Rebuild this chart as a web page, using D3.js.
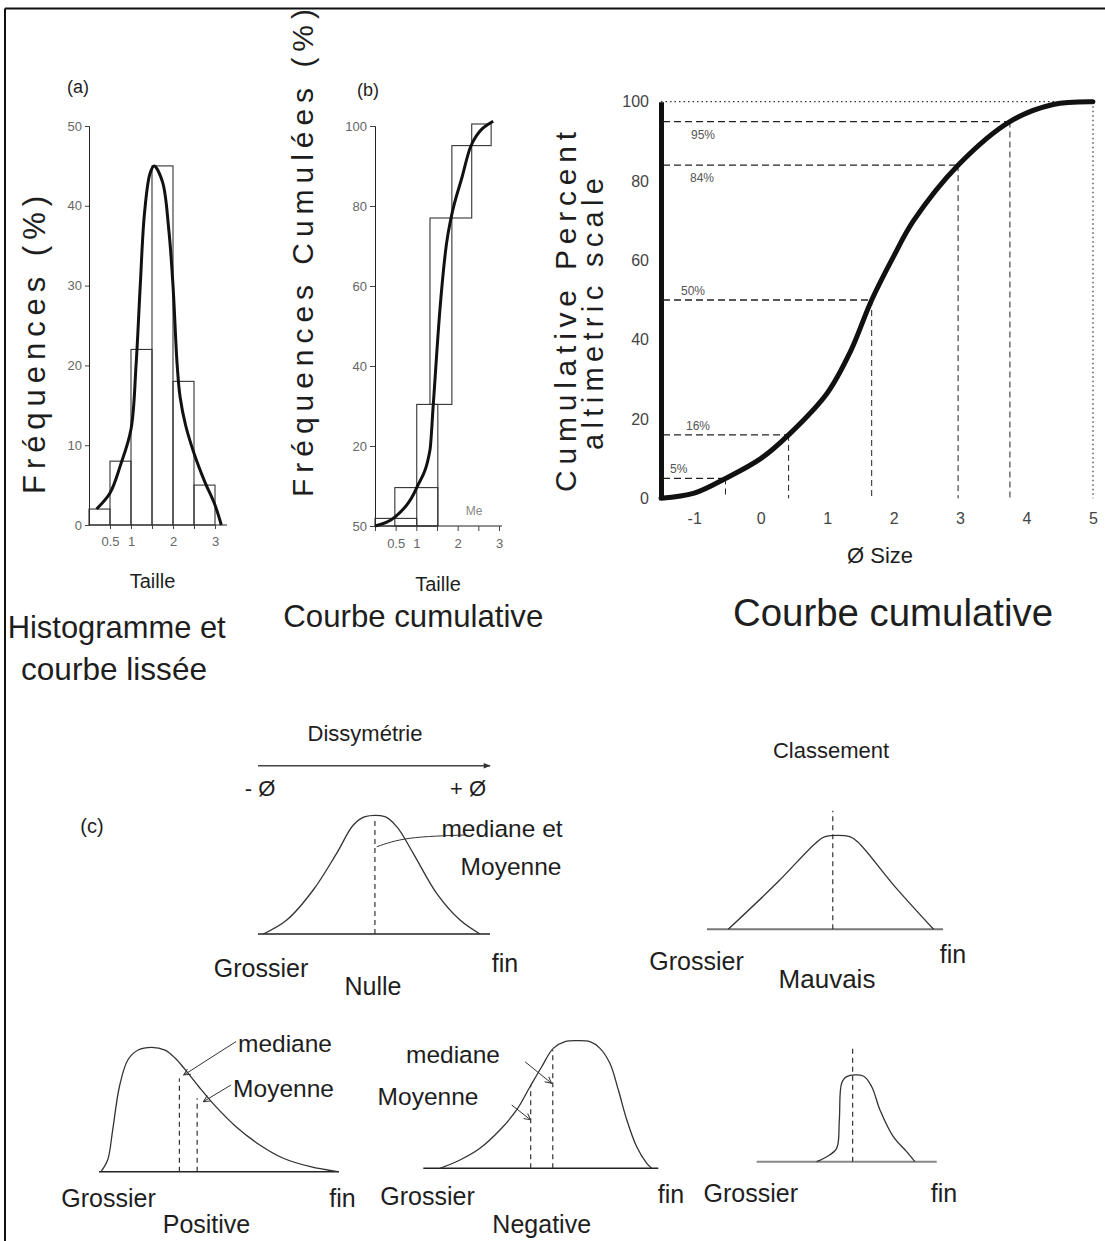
<!DOCTYPE html>
<html>
<head>
<meta charset="utf-8">
<script src="https://cdn.jsdelivr.net/npm/d3@7"></script>
<style>
body { margin: 0; background: #fff; }
text { font-family: "Liberation Sans", Arial, sans-serif; fill: #1e1e1e; }
.tick text { fill: #666; }
</style>
</head>
<body>
<svg id="fig" width="1105" height="1241"></svg>
<script>
// ---------------------------------------------------------------
// (a) histogramme + courbe lissee
const histBins = [0, 0.5, 1, 1.5, 2, 2.5, 3];
const histFreq = [2, 8, 22, 45, 18, 5];
const histSmooth = [[0.18,2],[0.5,4],[0.75,7.5],[1,12],[1.12,20],[1.22,30],[1.32,39],[1.45,44],[1.55,45],
                    [1.75,43],[1.9,37],[2,30],[2.1,20],[2.17,16],[2.3,12.5],[2.5,9],[2.75,5.5],[3,2.5],[3.15,0]];
const histYTicks = [0, 10, 20, 30, 40, 50];
const histXTicks = [0.5, 1, 1.5, 2, 2.5, 3];
const histXLabels = ["0.5", "1", "", "2", "", "3"];

// (b) courbe cumulative (marches)
const cumX0 = [0, 0.48, 1.01, 1.33, 1.86, 2.34];
const cumX1 = [1.01, 1.52, 1.52, 1.86, 2.34, 2.81];
const cumLow = [0, 0, 0, 30.4, 77, 95.1];
const cumHigh = [1.9, 9.6, 30.4, 77, 95.1, 100.5];
const cumCurve = [[0,0],[0.48,2.2],[1.01,9.6],[1.33,19],[1.41,30.4],[1.57,54],[1.73,70.6],[1.84,77],[2.1,87],[2.32,95],[2.86,101.2]];
const cumYTicks = [0, 20, 40, 60, 80, 100];
const cumYLabels = ["50", "20", "40", "60", "80", "100"];
const cumXTicks = [0, 0.5, 1, 1.5, 2, 2.5, 3];
const cumXLabels = ["", "0.5", "1", "", "2", "", "3"];

// courbe cumulative en phi
const phiCurve = [[-1.5,0],[-1,1.3],[-0.53,5],[0,10],[0.42,16],[1,26.5],[1.35,37],[1.67,50],[2,61],[2.3,70],[2.97,84],[3.75,95],[4.4,99.3],[5,100]];
const phiYTicks = [0, 20, 40, 60, 80, 100];
const phiXTicks = [-1, 0, 1, 2, 3, 4, 5];
const quantPct = [5, 16, 50, 84, 95];
const quantPhi = [-0.53, 0.42, 1.67, 2.97, 3.75];
const quantLabels = ["5%", "16%", "50%", "84%", "95%"];

// (c) schemas (x et y en % de la boite)
const nulleCurve = [[2.3,0],[12.4,11.9],[23.8,37.5],[33.9,68.8],[41.1,92.9],[46.1,100],[54.7,100],[59.8,91.5],[66.9,68.8],[77,34.7],[87.1,11.9],[95.7,0]];
const nulleLeader = [[51.2,74.4],[65.5,81.6],[89.2,84.4]];
const mauvaisCurve = [[9,0],[30,51],[46,93],[50,100],[60.5,100],[64,94],[80,45],[96,0]];
const positiveCurve = [[0.8,0],[3.6,9.4],[5.7,33.5],[8.5,68.3],[12,89.8],[16.3,97.8],[21.9,100],[27.5,97.8],[31.8,91.2],[36,81.8],
                       [41.6,68.3],[48.7,52.3],[57.1,36.2],[67,21.5],[76.8,10.8],[88.1,4],[99.4,0]];
const negativeCurve = [[7.1,0],[15.6,6.5],[24.1,15.7],[32.6,30],[39.7,45.7],[45.4,63.9],[50.4,79.6],[55.3,94],[60.3,99.2],[65.3,100],
                       [70.9,99.2],[75.2,94],[79.4,82.3],[83,61.4],[86.6,37.9],[90.8,16.9],[95.1,3.9],[97.2,0]];
const narrowCurve = [[33.3,0],[38.9,5.8],[44.4,15.6],[45.9,48.7],[47.2,91.5],[50,99.2],[59.2,100],[63.9,87.5],[68.5,60.3],[75.9,29.2],[83.3,11.7],[87.9,0]];
// traits tiretes [x, hauteur]
const nulleDash = [[50.4, 99]];
const mauvaisDash = [[53.3, 128]];
const positiveDash = [[33.5, 75], [40.9, 59]];
const negativeDash = [[45.7, 65], [55.1, 92.7]];
const narrowDash = [[53.3, 134]];
// fleches [x0, y0, x1, y1]
const positiveArrows = [[57.1, 104.6, 35.3, 77.7], [55, 69.7, 43.5, 56.3]];
const negativeArrows = [[43.3, 83.5, 54.6, 66.6], [37.6, 49.6, 45.7, 37.9]];

// ---------------------------------------------------------------
var svg = d3.select("#fig");
var smooth = d3.curveCatmullRom.alpha(0.5);

var defs = svg.append("defs");
defs.append("marker").attr("id", "arrowFill")
    .attr("viewBox", "0 0 10 10").attr("refX", 9).attr("refY", 5)
    .attr("markerWidth", 9).attr("markerHeight", 7).attr("orient", "auto")
    .attr("markerUnits", "userSpaceOnUse")
    .append("path").attr("d", "M0,1 L10,5 L0,9 Z").attr("fill", "#333");
defs.append("marker").attr("id", "arrowOpen")
    .attr("viewBox", "0 0 10 10").attr("refX", 9).attr("refY", 5)
    .attr("markerWidth", 8).attr("markerHeight", 8).attr("orient", "auto")
    .attr("markerUnits", "userSpaceOnUse")
    .append("path").attr("d", "M1,1 L9,5 L1,9").attr("fill", "none").attr("stroke", "#333").attr("stroke-width", 1.2);

// cadre
svg.append("line").attr("x1", 5).attr("y1", 8.5).attr("x2", 1105).attr("y2", 8.5).attr("stroke", "#111").attr("stroke-width", 2);
svg.append("line").attr("x1", 5).attr("y1", 8.5).attr("x2", 5).attr("y2", 1241).attr("stroke", "#111").attr("stroke-width", 2);

function label(txt, x, y, size, opts)
{
    opts = opts || {};
    var t = svg.append("text").text(txt)
        .attr("x", x).attr("y", y)
        .attr("text-anchor", opts.anchor || "middle")
        .style("font-size", size + "px");
    if (opts.len) t.attr("textLength", opts.len).attr("lengthAdjust", opts.adjust || "spacingAndGlyphs");
    if (opts.fill) t.style("fill", opts.fill);
    return t;
}

function vlabel(txt, x, y, size, len)
{
    svg.append("text").text(txt)
        .attr("transform", "translate(" + x + "," + y + ") rotate(-90)")
        .attr("text-anchor", "middle")
        .attr("textLength", len).attr("lengthAdjust", "spacing")
        .style("font-size", size + "px");
}

function styleAxis(g)
{
    g.selectAll("path").attr("stroke", "#222");
    g.selectAll("line").attr("stroke", "#444");
    g.selectAll("text").style("font-size", "13px").style("font-family", "Liberation Sans, Arial, sans-serif");
}

// ---------------------------------------------------------------
// (a)
var xA = d3.scaleLinear().domain([0, 3]).range([89, 215]);
var yA = d3.scaleLinear().domain([0, 50]).range([525, 126]);

svg.append("g").attr("transform", "translate(89,0)")
    .call(d3.axisLeft(yA).tickValues(histYTicks).tickSize(4).tickPadding(3))
    .call(styleAxis);
svg.append("g").attr("transform", "translate(0,525)")
    .call(d3.axisBottom(xA).tickValues(histXTicks).tickSize(4).tickPadding(8)
        .tickFormat((d, i) => histXLabels[i]))
    .call(styleAxis)
    .select("path").attr("d", "M89,0H227");

svg.append("g").selectAll("rect")
    .data(histFreq)
    .enter().append("rect")
    .attr("x", (d, i) => xA(histBins[i]))
    .attr("y", d => yA(d))
    .attr("width", (d, i) => xA(histBins[i + 1]) - xA(histBins[i]))
    .attr("height", d => yA(0) - yA(d))
    .attr("fill", "none").attr("stroke", "#333").attr("stroke-width", 1.1);

svg.append("path").datum(histSmooth)
    .attr("d", d3.line().x(d => xA(d[0])).y(d => yA(d[1])).curve(smooth))
    .attr("fill", "none").attr("stroke", "#111").attr("stroke-width", 3);

label("(a)", 78, 93, 18);
label("Taille", 152.5, 588, 20);
vlabel("Fréquences (%)", 45, 345, 31, 298);
label("Histogramme et", 116.7, 638, 32, {len: 218});
label("courbe lissée", 114, 680, 32, {len: 186});

// ---------------------------------------------------------------
// (b)
var xB = d3.scaleLinear().domain([0, 3]).range([375, 499]);
var yB = d3.scaleLinear().domain([0, 100]).range([526, 126]);

svg.append("g").attr("transform", "translate(375,0)")
    .call(d3.axisLeft(yB).tickValues(cumYTicks).tickSize(5).tickPadding(3)
        .tickFormat((d, i) => cumYLabels[i]))
    .call(styleAxis);
svg.append("g").attr("transform", "translate(0,526)")
    .call(d3.axisBottom(xB).tickValues(cumXTicks).tickSize(5).tickPadding(8)
        .tickFormat((d, i) => cumXLabels[i]))
    .call(styleAxis)
    .select("path").attr("d", "M375,0H502");

svg.append("g").selectAll("rect")
    .data(cumHigh)
    .enter().append("rect")
    .attr("x", (d, i) => xB(cumX0[i]))
    .attr("y", d => yB(d))
    .attr("width", (d, i) => xB(cumX1[i]) - xB(cumX0[i]))
    .attr("height", (d, i) => yB(cumLow[i]) - yB(d))
    .attr("fill", "none").attr("stroke", "#333").attr("stroke-width", 1.1);

svg.append("path").datum(cumCurve)
    .attr("d", d3.line().x(d => xB(d[0])).y(d => yB(d[1])).curve(d3.curveMonotoneX))
    .attr("fill", "none").attr("stroke", "#111").attr("stroke-width", 3);

label("(b)", 368, 96, 18);
label("Me", 474, 515, 12, {fill: "#888"});
label("Taille", 438, 591, 20);
vlabel("Fréquences Cumulées (%)", 313, 253, 30, 488);
label("Courbe cumulative", 413.3, 627, 32, {len: 260});

// ---------------------------------------------------------------
// courbe cumulative phi
var xP = d3.scaleLinear().domain([-1.5, 5]).range([661, 1093]);
var yP = d3.scaleLinear().domain([0, 100]).range([498.3, 101.7]);

var yAxisP = svg.append("g").attr("transform", "translate(661,0)")
    .call(d3.axisLeft(yP).tickValues(phiYTicks).tickSize(0).tickPadding(12));
yAxisP.select("path").attr("stroke", "#111").attr("stroke-width", 5);
yAxisP.selectAll("text").style("font-size", "16px").style("fill", "#444");

var xAxisP = svg.append("g").attr("transform", "translate(0,498.3)")
    .call(d3.axisBottom(xP).tickValues(phiXTicks).tickSize(0).tickPadding(14)
        .tickFormat(d => String(d)));
xAxisP.select("path").remove();
xAxisP.selectAll("text").style("font-size", "16px").style("fill", "#444");

// lignes pointillees a 100
svg.append("line").attr("x1", xP(-1.5)).attr("x2", xP(5)).attr("y1", yP(100)).attr("y2", yP(100))
    .attr("stroke", "#333").attr("stroke-width", 1.2).attr("stroke-dasharray", "1.5,3");
svg.append("line").attr("x1", xP(5)).attr("x2", xP(5)).attr("y1", yP(100)).attr("y2", yP(0))
    .attr("stroke", "#333").attr("stroke-width", 1.2).attr("stroke-dasharray", "1.5,3");

var q = svg.append("g");
q.selectAll(".hq").data(quantPct).enter().append("line")
    .attr("x1", xP(-1.5) + 2).attr("x2", (d, i) => xP(quantPhi[i]))
    .attr("y1", d => yP(d)).attr("y2", d => yP(d))
    .attr("stroke", "#222").attr("stroke-width", 1.3).attr("stroke-dasharray", "7,4");
q.selectAll(".vq").data(quantPct).enter().append("line")
    .attr("x1", (d, i) => xP(quantPhi[i])).attr("x2", (d, i) => xP(quantPhi[i]))
    .attr("y1", d => yP(d)).attr("y2", yP(0))
    .attr("stroke", "#222").attr("stroke-width", 1).attr("stroke-dasharray", "6,4");
q.selectAll("text").data(quantPct).enter().append("text")
    .text((d, i) => quantLabels[i])
    .attr("x", (d, i) => [670, 686, 681, 690, 691][i])
    .attr("y", d => d > 50 ? yP(d) + 17 : yP(d) - 5)
    .style("font-size", "12px").style("fill", "#555");

svg.append("path").datum(phiCurve)
    .attr("d", d3.line().x(d => xP(d[0])).y(d => yP(d[1])).curve(d3.curveCatmullRom.alpha(0.5)))
    .attr("fill", "none").attr("stroke", "#111").attr("stroke-width", 5)
    .attr("stroke-linecap", "round");

vlabel("Cumulative Percent", 576, 312, 30, 360);
vlabel("altimetric scale", 603, 314, 29, 272);
label("Ø Size", 880, 563, 22);
label("Courbe cumulative", 893, 626, 38.5, {len: 320});

// ---------------------------------------------------------------
// (c) schemas
function schema(curve, dashes, box)
{
    var x = d3.scaleLinear().domain([0, 100]).range([box.x0, box.x1]);
    var y = d3.scaleLinear().domain([0, 100]).range([box.base, box.top]);
    svg.append("line").attr("x1", x(0)).attr("x2", x(100)).attr("y1", y(0)).attr("y2", y(0))
        .attr("stroke", box.baseColor).attr("stroke-width", box.baseWidth);
    svg.append("path").datum(curve)
        .attr("d", d3.line().x(d => x(d[0])).y(d => y(d[1])).curve(smooth))
        .attr("fill", "none").attr("stroke", "#333").attr("stroke-width", 1.3);
    svg.append("g").selectAll("line").data(dashes).enter().append("line")
        .attr("x1", d => x(d[0])).attr("x2", d => x(d[0]))
        .attr("y1", y(0)).attr("y2", d => y(d[1]))
        .attr("stroke", "#333").attr("stroke-width", 1.2).attr("stroke-dasharray", "5,4");
    return {x: x, y: y};
}

function arrows(s, list)
{
    svg.append("g").selectAll("line").data(list).enter().append("line")
        .attr("x1", d => s.x(d[0])).attr("y1", d => s.y(d[1]))
        .attr("x2", d => s.x(d[2])).attr("y2", d => s.y(d[3]))
        .attr("stroke", "#333").attr("stroke-width", 1)
        .attr("marker-end", "url(#arrowOpen)");
}

// Dissymetrie
svg.append("line").attr("x1", 258).attr("x2", 490).attr("y1", 765.7).attr("y2", 765.7)
    .attr("stroke", "#444").attr("stroke-width", 1.6).attr("marker-end", "url(#arrowFill)");
label("Dissymétrie", 365, 741, 22);
label("- Ø", 260, 796, 22);
label("+ Ø", 468, 796, 22);
label("(c)", 92, 833, 20);

var sN = schema(nulleCurve, nulleDash, {x0: 258, x1: 490, base: 934, top: 816.7, baseColor: "#222", baseWidth: 1.4});
svg.append("path").datum(nulleLeader)
    .attr("d", d3.line().x(d => sN.x(d[0])).y(d => sN.y(d[1])).curve(d3.curveNatural))
    .attr("fill", "none").attr("stroke", "#333").attr("stroke-width", 1);
label("mediane et", 502, 837, 24.5);
label("Moyenne", 511, 875, 24.5);
label("Grossier", 261, 977, 25);
label("Nulle", 373, 995, 25);
label("fin", 505, 972, 25);

// Classement
label("Classement", 831, 758, 22);
schema(mauvaisCurve, mauvaisDash, {x0: 707, x1: 943, base: 929.3, top: 836.7, baseColor: "#777", baseWidth: 2});
label("Grossier", 696.5, 970, 25);
label("Mauvais", 827, 988, 26);
label("fin", 953, 963, 25);

// Positive
var sPo = schema(positiveCurve, positiveDash, {x0: 99, x1: 339, base: 1171.7, top: 1047.3, baseColor: "#222", baseWidth: 1.4});
arrows(sPo, positiveArrows);
label("mediane", 285, 1052, 24.5);
label("Moyenne", 283.5, 1097, 24.5);
label("Grossier", 108.5, 1207, 25);
label("Positive", 206.5, 1233, 25);
label("fin", 342.5, 1207, 25);

// Negative
var sNe = schema(negativeCurve, negativeDash, {x0: 423.3, x1: 658.3, base: 1168.3, top: 1040.7, baseColor: "#222", baseWidth: 1.4});
arrows(sNe, negativeArrows);
label("mediane", 453, 1063, 24.5);
label("Moyenne", 428, 1105, 24.5);
label("Grossier", 427.5, 1205, 25);
label("Negative", 541.7, 1233, 25);
label("fin", 671, 1203, 25);

// Bon classement (courbe etroite)
schema(narrowCurve, narrowDash, {x0: 756.7, x1: 936.7, base: 1161.7, top: 1076, baseColor: "#888", baseWidth: 2});
label("Grossier", 750.8, 1202, 25);
label("fin", 944, 1202, 25);
</script>
</body>
</html>
